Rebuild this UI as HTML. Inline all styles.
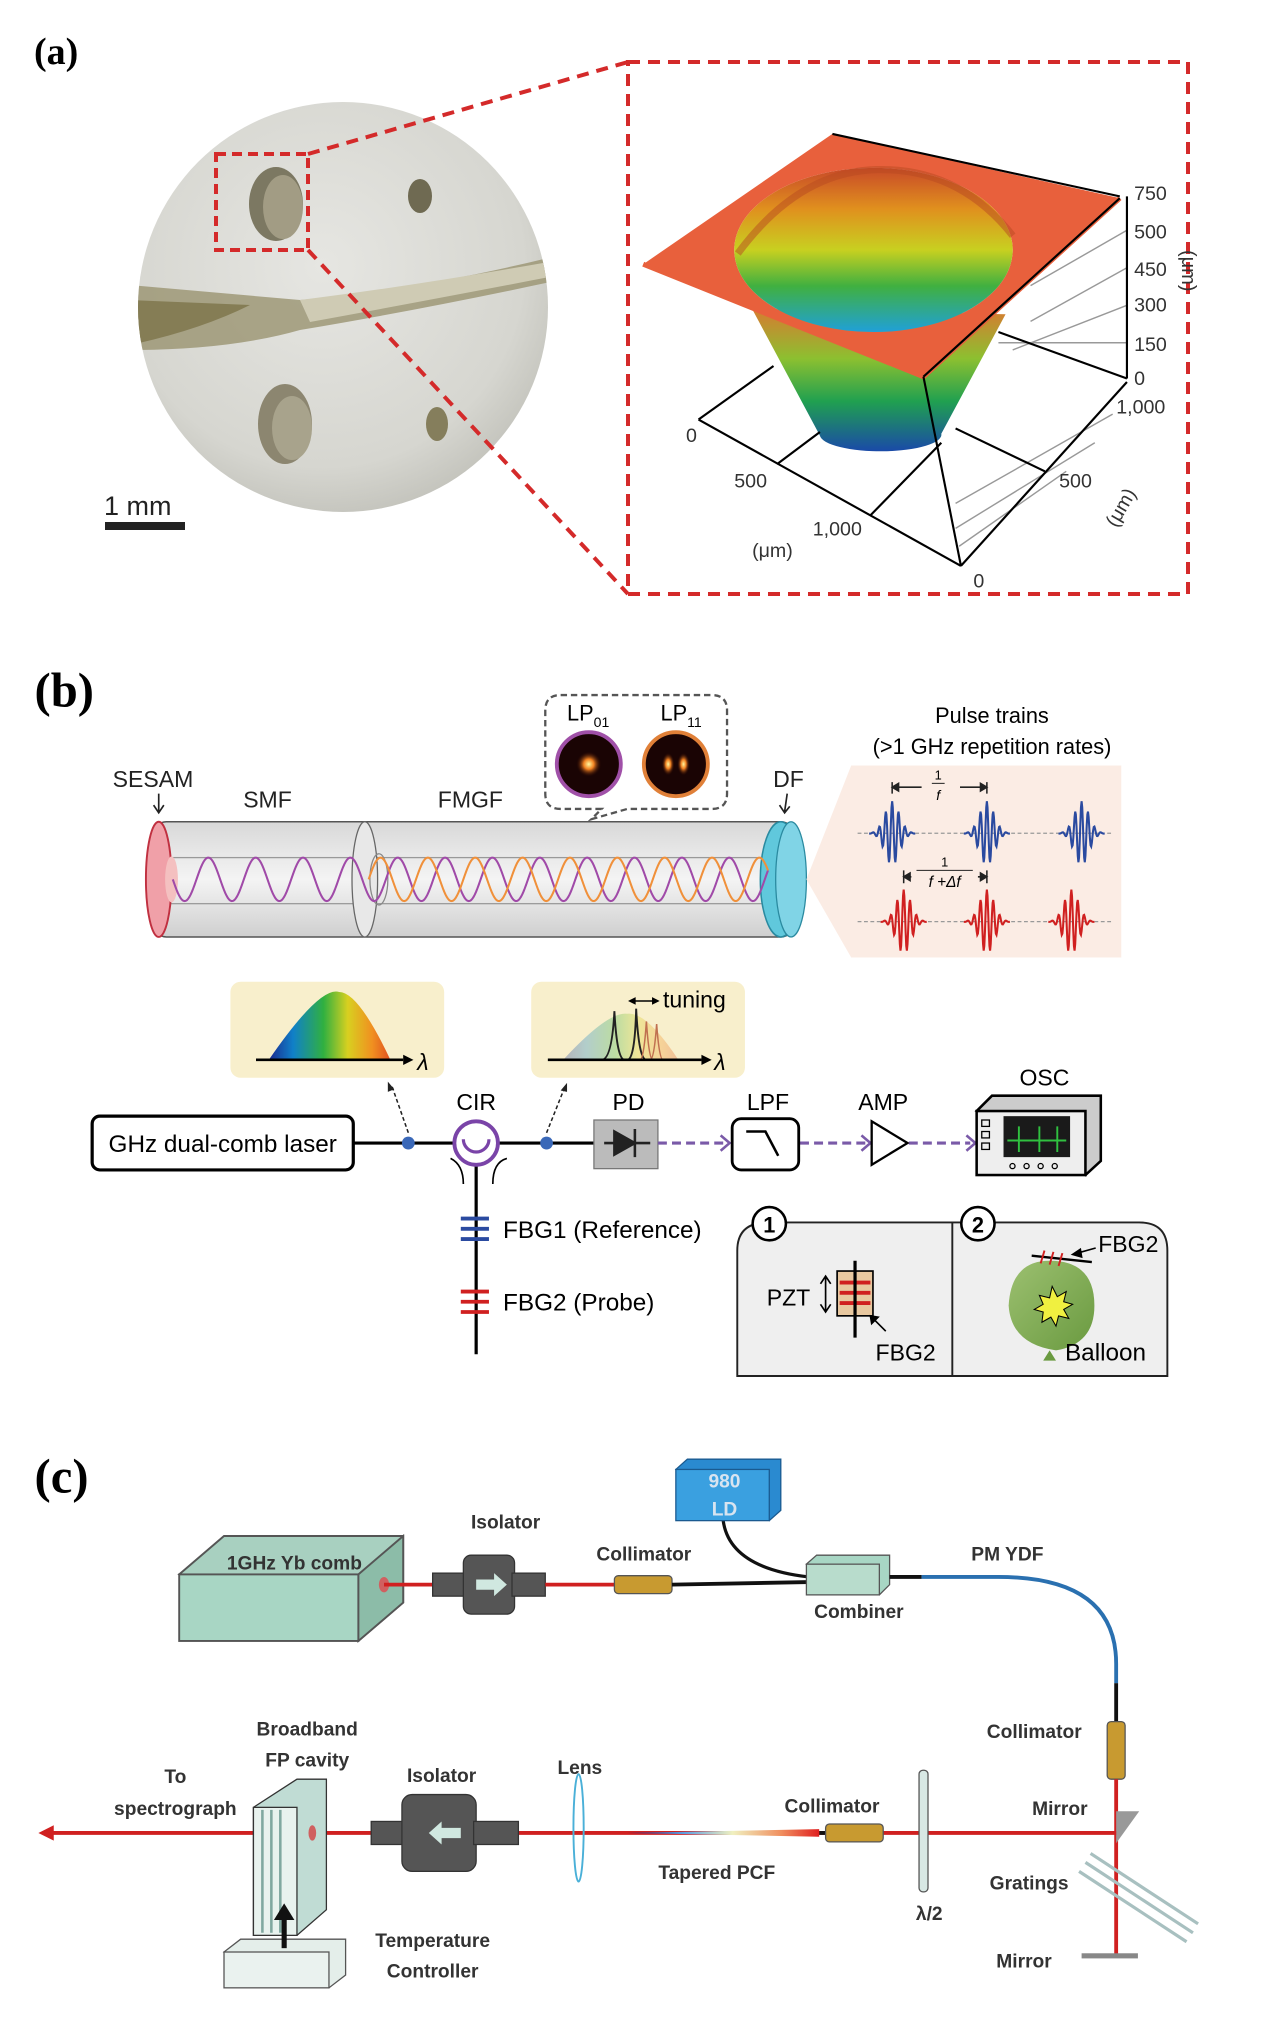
<!DOCTYPE html>
<html><head><meta charset="utf-8"><style>
html,body{margin:0;padding:0;background:#fff;}
svg{display:block;}
text{font-family:"Liberation Sans",sans-serif;}
.lbl{font-family:"Liberation Serif",serif;font-weight:bold;font-size:38px;}
.c{font-weight:bold;font-size:15px;fill:#333;}
</style></head><body>
<svg id="s" width="1280" height="2043" viewBox="0 0 1280 2043" xmlns="http://www.w3.org/2000/svg">
<defs>
<radialGradient id="photo" cx="0.45" cy="0.4" r="0.7"><stop offset="0" stop-color="#e6e6e2"/><stop offset="0.7" stop-color="#d6d6d0"/><stop offset="1" stop-color="#b8b8b0"/></radialGradient>
<linearGradient id="inner" x1="0" y1="0" x2="0" y2="1"><stop offset="0" stop-color="#c84a28"/><stop offset="0.25" stop-color="#e0901e"/><stop offset="0.5" stop-color="#c8d020"/><stop offset="0.72" stop-color="#40b040"/><stop offset="1" stop-color="#20a0d8"/></linearGradient>
<linearGradient id="outer" x1="0" y1="0" x2="0" y2="1"><stop offset="0" stop-color="#d87a30"/><stop offset="0.35" stop-color="#8cc030"/><stop offset="0.65" stop-color="#20a050"/><stop offset="1" stop-color="#1a4aa8"/></linearGradient>
<linearGradient id="rainbow" x1="0" y1="0" x2="1" y2="0"><stop offset="0" stop-color="#1a2a90"/><stop offset="0.2" stop-color="#1080c8"/><stop offset="0.45" stop-color="#30b040"/><stop offset="0.65" stop-color="#d8d020"/><stop offset="0.85" stop-color="#f09020"/><stop offset="1" stop-color="#e05020"/></linearGradient>
<linearGradient id="pcf" x1="0" y1="0" x2="1" y2="0"><stop offset="0" stop-color="#202080"/><stop offset="0.3" stop-color="#60a0e0"/><stop offset="0.55" stop-color="#f0f0c0"/><stop offset="0.8" stop-color="#f09060"/><stop offset="1" stop-color="#e02020"/></linearGradient>
<linearGradient id="tube" x1="0" y1="0" x2="0" y2="1"><stop offset="0" stop-color="#d8d8d8"/><stop offset="0.5" stop-color="#f4f4f4"/><stop offset="1" stop-color="#cfcfcf"/></linearGradient>
<radialGradient id="spot" cx="0.5" cy="0.5" r="0.5"><stop offset="0" stop-color="#fff8a0"/><stop offset="0.4" stop-color="#f08020"/><stop offset="1" stop-color="#200000" stop-opacity="0"/></radialGradient>
<linearGradient id="bal" x1="0" y1="0" x2="1" y2="1"><stop offset="0" stop-color="#9cc070"/><stop offset="1" stop-color="#6a9a40"/></linearGradient>
</defs>

<!-- ===== (a) ===== -->
<text class="lbl" x="34" y="64">(a)</text>
<g>
<ellipse cx="343" cy="307" rx="205" ry="205" fill="url(#photo)"/>
<clipPath id="pc"><ellipse cx="343" cy="307" rx="205" ry="205"/></clipPath>
<g clip-path="url(#pc)">
<path d="M130,285 L300,300 Q420,290 560,255 L560,280 Q420,310 300,330 Q230,350 130,350 Z" fill="#9a9470" opacity="0.8"/>
<path d="M130,300 L250,305 Q200,330 130,345 Z" fill="#857d55"/>
<path d="M300,300 Q420,285 560,260 L560,275 Q430,300 310,322 Z" fill="#cfcbb4"/>
</g>
<ellipse cx="276" cy="204" rx="27" ry="37" fill="#7c7862"/>
<ellipse cx="283" cy="207" rx="20" ry="32" fill="#a29c84"/>
<ellipse cx="420" cy="196" rx="12" ry="17" fill="#6f6a52"/>
<ellipse cx="285" cy="424" rx="27" ry="40" fill="#8c8670"/>
<ellipse cx="292" cy="428" rx="20" ry="32" fill="#a8a38c"/>
<ellipse cx="437" cy="424" rx="11" ry="17" fill="#857e5c"/>
<rect x="216" y="154" width="92" height="96" fill="none" stroke="#d42a2a" stroke-width="4" stroke-dasharray="10,6"/>
<line x1="308" y1="154" x2="628" y2="62" stroke="#d42a2a" stroke-width="4" stroke-dasharray="12,8"/>
<line x1="308" y1="250" x2="628" y2="594" stroke="#d42a2a" stroke-width="4" stroke-dasharray="12,8"/>
<rect x="628" y="62" width="560" height="532" fill="none" stroke="#d42a2a" stroke-width="4" stroke-dasharray="12,8"/>
<text x="104" y="515" font-size="27" fill="#222">1 mm</text>
<rect x="105" y="522" width="80" height="8" fill="#222"/>
</g>
<g transform="translate(620,100) scale(0.357)">
<g stroke="#999" stroke-width="4" fill="none">
<line x1="1420" y1="365" x2="1150" y2="520"/><line x1="1420" y1="470" x2="1150" y2="620"/>
<line x1="1420" y1="575" x2="1100" y2="700"/><line x1="1420" y1="680" x2="1060" y2="680"/>
<line x1="1380" y1="880" x2="940" y2="1130"/><line x1="1330" y1="960" x2="940" y2="1200"/>
<line x1="1250" y1="1040" x2="950" y2="1250"/>
</g>
<path d="M370,585 L560,940 A165 45 0 0 0 900,935 L1080,600 Z" fill="url(#outer)"/>
<path fill-rule="evenodd" d="M65,460 L595,95 L1400,275 L850,775 Z M320,420 A390 230 0 1 0 1100,420 A390 230 0 1 0 320,420 Z" fill="#e8603c"/>
<ellipse cx="710" cy="420" rx="390" ry="230" fill="url(#inner)"/>
<path d="M330,430 Q500,200 720,195 Q950,190 1100,380" fill="none" stroke="#b84a20" stroke-width="20" opacity="0.5"/>
<path d="M65,460 L850,775 L1400,275" fill="none" stroke="#e8603c" stroke-width="14"/>
<g stroke="#000" stroke-width="6" fill="none">
<line x1="595" y1="95" x2="1400" y2="270"/>
<line x1="1420" y1="270" x2="1420" y2="780"/>
<line x1="1400" y1="275" x2="850" y2="775"/>
<line x1="850" y1="775" x2="955" y2="1305"/>
<line x1="220" y1="895" x2="955" y2="1305"/>
<line x1="955" y1="1305" x2="1420" y2="790"/>
<line x1="220" y1="895" x2="430" y2="745"/>
<line x1="440" y1="1020" x2="560" y2="930"/>
<line x1="700" y1="1165" x2="900" y2="960"/>
<line x1="1190" y1="1040" x2="940" y2="920"/>
<line x1="1060" y1="650" x2="1420" y2="780"/>
</g>
<g font-size="55" fill="#333">
<text x="1440" y="280">750</text><text x="1440" y="388">500</text><text x="1440" y="493">450</text>
<text x="1440" y="593">300</text><text x="1440" y="703">150</text><text x="1440" y="798">0</text>
<text x="1390" y="878">1,000</text><text x="185" y="958">0</text><text x="320" y="1085">500</text>
<text x="540" y="1220">1,000</text><text x="370" y="1280">(μm)</text><text x="1230" y="1085">500</text>
<text x="990" y="1365">0</text>
<text transform="translate(1390,1200) rotate(-60)">(μm)</text>
</g>
</g>
<text transform="translate(1182,250) rotate(90)" font-size="20" fill="#333">(μm)</text>

<!-- ===== (b) and (c) in thumb coordinates ===== -->
<g transform="scale(1.28)">
<text class="lbl" x="27" y="552" font-size="30">(b)</text>
<rect x="120" y="642" width="500" height="90" rx="10" fill="url(#tube)" stroke="#555" stroke-width="1.2"/>
<rect x="130" y="670" width="470" height="36" fill="none" stroke="#999" stroke-width="1"/>
<ellipse cx="285" cy="687" rx="10" ry="45" fill="#e8e8e8" stroke="#666" stroke-width="1"/>
<ellipse cx="296" cy="687" rx="7" ry="20" fill="none" stroke="#888"/>
<ellipse cx="124" cy="687" rx="10" ry="45" fill="#f0a0a8" stroke="#c03040" stroke-width="1.5"/>
<ellipse cx="134" cy="687" rx="5" ry="18" fill="#f4c0c0"/>
<ellipse cx="610" cy="687" rx="16" ry="45" fill="#60c8dc" stroke="#2a8aa0" stroke-width="1.2"/>
<ellipse cx="618" cy="687" rx="12" ry="45" fill="#80d4e6" stroke="#2a8aa0" stroke-width="1"/>
<path id="wp" fill="none" stroke="#a04aa8" stroke-width="1.6"/>
<path id="wo" fill="none" stroke="#f0903a" stroke-width="1.6"/>
<g font-size="18" fill="#222">
<text x="88" y="615">SESAM</text><text x="190" y="631">SMF</text><text x="342" y="631">FMGF</text><text x="604" y="615">DF</text>
</g>
<path d="M124,620 l0,14 M120,629 l4,6 4,-6 M615,620 l-2,14 M609,629 l4,6 4,-5" stroke="#222" stroke-width="1.3" fill="none"/>
<path d="M438,543 H556 Q568,543 568,555 V620 Q568,632 556,632 H490 L462,640 L470,632 H438 Q426,632 426,620 V555 Q426,543 438,543 Z" fill="none" stroke="#555" stroke-width="1.8" stroke-dasharray="5,3"/>
<circle cx="460" cy="597" r="25" fill="#1a0404" stroke="#a050a8" stroke-width="3"/>
<circle cx="460" cy="597" r="10" fill="url(#spot)"/>
<circle cx="528" cy="597" r="25" fill="#1a0404" stroke="#e08038" stroke-width="3"/>
<ellipse cx="522" cy="597" rx="5" ry="9" fill="url(#spot)"/><ellipse cx="534" cy="597" rx="5" ry="9" fill="url(#spot)"/>
<text x="443" y="563" font-size="17">LP<tspan font-size="11" dy="5">01</tspan></text>
<text x="516" y="563" font-size="17">LP<tspan font-size="11" dy="5">11</tspan></text>
<path d="M630,687 L665,598 H876 V748 H665 Z" fill="#fbece4"/>
<text x="775" y="565" font-size="17" text-anchor="middle">Pulse trains</text>
<text x="775" y="589" font-size="17" text-anchor="middle">(&gt;1 GHz repetition rates)</text>
<line x1="670" y1="651" x2="870" y2="651" stroke="#999" stroke-dasharray="3,2"/>
<line x1="670" y1="720" x2="870" y2="720" stroke="#999" stroke-dasharray="3,2"/>
<path id="pb" fill="none" stroke="#2a4aa0" stroke-width="1.6"/>
<path id="pr" fill="none" stroke="#d02020" stroke-width="1.6"/>
<path d="M697,611 V620 M771,611 V620 M697,615 H720 M750,615 H771 M697,615 l5,-3 v6z M771,615 l-5,-3 v6z" stroke="#222" fill="#222" stroke-width="1.2"/>
<text x="733" y="609" font-size="10" font-family="Liberation Serif" text-anchor="middle">1</text>
<line x1="728" y1="612" x2="738" y2="612" stroke="#222" stroke-width="0.8"/>
<text x="733" y="625" font-size="11" font-style="italic" font-family="Liberation Serif" text-anchor="middle">f</text>
<path d="M706,680 V690 M771,680 V690 M706,685 H712 M764,685 H771 M706,685 l5,-3 v6z M771,685 l-5,-3 v6z" stroke="#222" fill="#222" stroke-width="1.2"/>
<text x="738" y="677" font-size="10" font-family="Liberation Serif" text-anchor="middle">1</text>
<line x1="716" y1="680" x2="760" y2="680" stroke="#222" stroke-width="0.8"/>
<text x="738" y="693" font-size="12" font-style="italic" font-family="Liberation Serif" text-anchor="middle">f +Δf</text>
<rect x="180" y="767" width="167" height="75" rx="8" fill="#f8efcc"/>
<rect x="415" y="767" width="167" height="75" rx="8" fill="#f8efcc"/>
<path d="M210,828 Q250,770 265,775 Q280,775 305,828 Z" fill="url(#rainbow)"/>
<path d="M200,828 H315" stroke="#000" stroke-width="2"/><path d="M315,824 l8,4 -8,4z"/>
<text x="326" y="836" font-size="18" font-style="italic" font-family="Liberation Serif">λ</text>
<path d="M440,828 Q475,790 490,792 Q505,790 530,828 Z" fill="url(#rainbow)" opacity="0.3"/>
<path d="M470,828 Q478,828 480,790 Q482,828 488,828 M490,828 Q496,828 497,788 Q499,828 505,828" fill="none" stroke="#222" stroke-width="1.5"/>
<path d="M500,828 Q503,828 505,798 Q507,828 510,828 M508,828 Q511,828 513,800 Q515,828 518,828" fill="none" stroke="#c07050" stroke-width="1.2"/>
<path d="M428,828 H548" stroke="#000" stroke-width="2"/><path d="M548,824 l8,4 -8,4z"/>
<text x="558" y="836" font-size="18" font-style="italic" font-family="Liberation Serif">λ</text>
<path d="M492,782 H514 M492,782 l4,-2 v4z M514,782 l-4,-2 v4z" stroke="#000" stroke-width="1.2"/>
<text x="518" y="787" font-size="18">tuning</text>
<rect x="72" y="872" width="204" height="42" rx="6" fill="#fff" stroke="#000" stroke-width="2.5"/>
<text x="174" y="900" font-size="19" text-anchor="middle">GHz dual-comb laser</text>
<line x1="276" y1="893" x2="464" y2="893" stroke="#000" stroke-width="2.5"/>
<line x1="372" y1="893" x2="372" y2="1058" stroke="#000" stroke-width="2.5"/>
<circle cx="372" cy="893" r="17" fill="#fff" stroke="#7a44a8" stroke-width="3"/>
<path d="M362,890 A10,10 0 0 0 382,890" fill="none" stroke="#7a44a8" stroke-width="2.5"/>
<circle cx="319" cy="893" r="5" fill="#3a68b8"/><circle cx="427" cy="893" r="5" fill="#3a68b8"/>
<path d="M319,885 L306,848 M427,885 L441,850" stroke="#222" stroke-width="1.2" stroke-dasharray="3,2"/>
<path d="M303,845 l0,8 5,-2z M443,846 l-5,6 5,1z" fill="#222"/>
<path d="M352,905 Q362,910 362,925 M385,925 Q385,908 396,905" fill="none" stroke="#000" stroke-width="1.3"/>
<text x="372" y="867" font-size="18" text-anchor="middle">CIR</text>
<rect x="464" y="875" width="50" height="38" fill="#bbb" stroke="#777"/>
<path d="M480,884 V902 L496,893 Z M496,882 V904" fill="#222" stroke="#222" stroke-width="2"/>
<path d="M472,893 H508" stroke="#222" stroke-width="2"/>
<text x="491" y="867" font-size="18" text-anchor="middle">PD</text>
<g stroke="#7a5aa8" stroke-width="2.5" stroke-dasharray="7,4" fill="none"><line x1="514" y1="893" x2="566" y2="893"/><line x1="625" y1="893" x2="676" y2="893"/><line x1="710" y1="893" x2="758" y2="893"/></g>
<g fill="none" stroke="#7a5aa8" stroke-width="2"><path d="M563,887 l7,6 -7,6 M673,887 l7,6 -7,6 M755,887 l7,6 -7,6"/></g>
<rect x="572" y="874" width="52" height="40" rx="7" fill="#fff" stroke="#000" stroke-width="2.2"/>
<path d="M583,884 H598 L608,903" fill="none" stroke="#000" stroke-width="2"/>
<text x="600" y="867" font-size="18" text-anchor="middle">LPF</text>
<path d="M681,876 V910 L709,893 Z" fill="#fff" stroke="#000" stroke-width="1.8"/>
<text x="690" y="867" font-size="18" text-anchor="middle">AMP</text>
<path d="M763,868 L775,856 H860 V907 L848,918 Z" fill="#ccc" stroke="#000" stroke-width="2"/>
<rect x="763" y="868" width="85" height="50" fill="#eee" stroke="#000" stroke-width="2"/>
<rect x="784" y="872" width="52" height="32" fill="#1a1a1a"/>
<path d="M787,891 H833 M796,880 V900 M812,880 V900 M826,880 V900" stroke="#30c040" stroke-width="1.5"/>
<rect x="767" y="875" width="6" height="5" fill="none" stroke="#000"/><rect x="767" y="884" width="6" height="5" fill="none" stroke="#000"/><rect x="767" y="893" width="6" height="5" fill="none" stroke="#000"/>
<g fill="none" stroke="#000"><circle cx="791" cy="911" r="2"/><circle cx="802" cy="911" r="2"/><circle cx="813" cy="911" r="2"/><circle cx="824" cy="911" r="2"/></g>
<text x="816" y="848" font-size="18" text-anchor="middle">OSC</text>
<path d="M360,952 H382 M360,960 H382 M360,968 H382" stroke="#2a4aa0" stroke-width="3"/>
<path d="M360,1009 H382 M360,1017 H382 M360,1025 H382" stroke="#d02020" stroke-width="3"/>
<text x="393" y="967" font-size="19">FBG1 (Reference)</text>
<text x="393" y="1024" font-size="19">FBG2 (Probe)</text>
<path d="M600,955 H890 Q912,955 912,977 V1075 H576 V977 Q576,955 600,955 Z" fill="#efefef" stroke="#222" stroke-width="1.5"/>
<line x1="744" y1="955" x2="744" y2="1075" stroke="#222" stroke-width="1.5"/>
<circle cx="601" cy="956" r="13" fill="#fff" stroke="#000" stroke-width="2"/><text x="601" y="963" font-size="17" font-weight="bold" text-anchor="middle">1</text>
<circle cx="764" cy="956" r="13" fill="#fff" stroke="#000" stroke-width="2"/><text x="764" y="963" font-size="17" font-weight="bold" text-anchor="middle">2</text>
<rect x="654" y="993" width="28" height="35" fill="#e8c8a0" stroke="#000" stroke-width="1.3"/>
<path d="M656,1002 H680 M656,1010 H680 M656,1018 H680" stroke="#d02020" stroke-width="3"/>
<line x1="668" y1="985" x2="668" y2="1045" stroke="#000" stroke-width="2.5"/>
<path d="M645,998 V1024 M641,1003 l4,-6 4,6 M641,1019 l4,6 4,-6" fill="none" stroke="#000" stroke-width="1.3"/>
<text x="599" y="1020" font-size="18">PZT</text>
<path d="M692,1040 L680,1028 M680,1028 l1,6 5,-5z" stroke="#000" stroke-width="1.3"/>
<text x="684" y="1063" font-size="18">FBG2</text>
<path d="M820,985 Q855,985 855,1020 Q855,1050 825,1055 Q790,1050 788,1020 Q790,985 820,985 Z" fill="url(#bal)"/>
<path d="M820,1055 l-5,8 h10z" fill="#6a9a40"/>
<path d="M822,1005 l4,8 7,-4 -2,8 7,2 -7,4 4,7 -8,-2 -2,8 -4,-7 -7,4 1,-8 -7,-2 7,-4 -3,-7 8,2z" fill="#f0f040" stroke="#000" stroke-width="0.8"/>
<line x1="806" y1="981" x2="853" y2="986" stroke="#000" stroke-width="1.8"/>
<path d="M816,977 l-3,10 M823,978 l-3,10 M830,979 l-3,10" stroke="#d02020" stroke-width="1.5"/>
<path d="M856,975 L838,980 M838,980 l6,-4 1,6z" stroke="#000" stroke-width="1.3"/>
<text x="858" y="978" font-size="18">FBG2</text>
<text x="832" y="1063" font-size="19">Balloon</text>

<!-- ===== (c) ===== -->
<text class="lbl" x="27" y="1166" font-size="30">(c)</text>
<path d="M140,1230 L175,1200 H315 V1252 L280,1282 Z" fill="#a8d0c0" stroke="#555" stroke-width="1.5"/>
<rect x="140" y="1230" width="140" height="52" fill="#a8d6c4" stroke="#555" stroke-width="1.5"/>
<path d="M280,1230 L315,1200 V1252 L280,1282 Z" fill="#8cbca8" stroke="#555" stroke-width="1.5"/>
<text x="230" y="1226" class="c" text-anchor="middle" font-size="15">1GHz Yb comb</text>
<ellipse cx="300" cy="1238" rx="4" ry="6" fill="#d06060"/>
<line x1="300" y1="1238" x2="340" y2="1238" stroke="#d02020" stroke-width="3"/>
<rect x="338" y="1229" width="26" height="18" fill="#555" stroke="#333"/>
<rect x="362" y="1215" width="40" height="46" rx="6" fill="#555" stroke="#333"/>
<rect x="400" y="1229" width="26" height="18" fill="#555" stroke="#333"/>
<path d="M372,1234 H386 V1229 L396,1238 L386,1247 V1242 H372 Z" fill="#d0e8e0"/>
<text x="395" y="1194" class="c" text-anchor="middle">Isolator</text>
<line x1="426" y1="1238" x2="480" y2="1238" stroke="#d02020" stroke-width="3"/>
<rect x="480" y="1231" width="45" height="14" rx="3" fill="#c89a30" stroke="#555"/>
<text x="503" y="1219" class="c" text-anchor="middle">Collimator</text>
<line x1="525" y1="1238" x2="632" y2="1236" stroke="#111" stroke-width="3"/>
<path d="M565,1188 Q570,1225 632,1232" fill="none" stroke="#111" stroke-width="2.5"/>
<path d="M528,1148 L537,1140 H610 V1180 L601,1188 Z" fill="#2a8ad0" stroke="#1a5a90"/>
<rect x="528" y="1148" width="73" height="40" fill="#3aa0e0" stroke="#1a5a90"/>
<text x="566" y="1162" class="c" text-anchor="middle" style="fill:#d8e4f0">980</text>
<text x="566" y="1184" class="c" text-anchor="middle" style="fill:#d8e4f0">LD</text>
<path d="M630,1222 L638,1215 H695 V1238 L687,1246 Z" fill="#a8d6c4" stroke="#555"/>
<rect x="630" y="1222" width="57" height="24" fill="#b8dccc" stroke="#555"/>
<text x="671" y="1264" class="c" text-anchor="middle">Combiner</text>
<path d="M695,1232 H720" stroke="#111" stroke-width="3"/>
<path d="M720,1232 H780 Q872,1232 872,1300 V1315" fill="none" stroke="#2a70b0" stroke-width="3"/>
<line x1="872" y1="1315" x2="872" y2="1345" stroke="#111" stroke-width="3"/>
<text x="787" y="1219" class="c" text-anchor="middle">PM YDF</text>
<rect x="865" y="1345" width="14" height="45" rx="3" fill="#c89a30" stroke="#555"/>
<text x="808" y="1358" class="c" text-anchor="middle">Collimator</text>
<line x1="872" y1="1390" x2="872" y2="1527" stroke="#d02020" stroke-width="3"/>
<path d="M872,1415 H890 L872,1440 Z" fill="#999"/>
<text x="828" y="1418" class="c" text-anchor="middle">Mirror</text>
<path d="M848,1455 L932,1510 M843,1462 L927,1517 M852,1448 L936,1503" stroke="#a8c0c0" stroke-width="2.5"/>
<text x="804" y="1476" class="c" text-anchor="middle">Gratings</text>
<rect x="845" y="1526" width="44" height="4" fill="#888"/>
<text x="800" y="1537" class="c" text-anchor="middle">Mirror</text>
<line x1="40" y1="1432" x2="872" y2="1432" stroke="#d02020" stroke-width="3"/>
<path d="M30,1432 l12,-6 v12z" fill="#d02020"/>
<rect x="718" y="1383" width="7" height="95" rx="3" fill="#d8e8e4" stroke="#555"/>
<text x="726" y="1500" class="c" text-anchor="middle">λ/2</text>
<line x1="640" y1="1432" x2="650" y2="1432" stroke="#111" stroke-width="3"/>
<rect x="645" y="1425" width="45" height="14" rx="3" fill="#c89a30" stroke="#555"/>
<text x="650" y="1416" class="c" text-anchor="middle">Collimator</text>
<path d="M490,1432 L640,1429 V1435 Z" fill="url(#pcf)"/>
<text x="560" y="1468" class="c" text-anchor="middle">Tapered PCF</text>
<ellipse cx="452" cy="1428" rx="4" ry="42" fill="none" stroke="#4ab0d8" stroke-width="1.5"/>
<text x="453" y="1386" class="c" text-anchor="middle">Lens</text>
<rect x="290" y="1423" width="26" height="18" fill="#555" stroke="#333"/>
<rect x="314" y="1402" width="58" height="60" rx="8" fill="#555" stroke="#333"/>
<rect x="370" y="1423" width="35" height="18" fill="#555" stroke="#333"/>
<path d="M360,1428 H345 V1423 L335,1432 L345,1441 V1436 H360 Z" fill="#d0e8e0"/>
<text x="345" y="1392" class="c" text-anchor="middle">Isolator</text>
<path d="M198,1412 L232,1390 H255 V1492 L232,1512 H198 Z" fill="#c0dcd4" stroke="#333"/>
<rect x="198" y="1412" width="34" height="100" fill="#e8f2ee" stroke="#333"/>
<path d="M205,1414 V1510 M212,1414 V1510 M219,1414 V1510" stroke="#80a8a0" stroke-width="2"/>
<ellipse cx="244" cy="1432" rx="3" ry="6" fill="#d06060"/>
<text x="240" y="1356" class="c" text-anchor="middle">Broadband</text>
<text x="240" y="1380" class="c" text-anchor="middle">FP cavity</text>
<text x="137" y="1393" class="c" text-anchor="middle">To</text>
<text x="137" y="1418" class="c" text-anchor="middle">spectrograph</text>
<path d="M175,1525 L188,1515 H270 V1543 L257,1553 Z" fill="#e4eeea" stroke="#555"/>
<rect x="175" y="1525" width="82" height="28" fill="#eaf2ef" stroke="#555"/>
<line x1="222" y1="1522" x2="222" y2="1498" stroke="#111" stroke-width="4"/>
<path d="M214,1500 L222,1487 L230,1500 Z" fill="#111"/>
<text x="338" y="1521" class="c" text-anchor="middle">Temperature</text>
<text x="338" y="1545" class="c" text-anchor="middle">Controller</text>
</g>
</svg>
<script>
function sine(x0,x1,yc,A,P,ph){let d='';for(let x=x0;x<=x1;x+=1){const y=yc+A*Math.sin(2*Math.PI*(x-x0)/P+ph);d+=(x==x0?'M':'L')+x+','+y.toFixed(2)+' ';}return d;}
document.getElementById('wp').setAttribute('d',sine(135,600,687,17,37,0));
document.getElementById('wo').setAttribute('d',sine(288,600,687,17,37,Math.PI));
function pulses(cs,yc){let d='';cs.forEach(c=>{for(let x=c-18;x<=c+18;x+=0.5){const g=Math.exp(-Math.pow((x-c)/8,2));const y=yc-25*g*Math.cos(2*Math.PI*(x-c)/5);d+=(x==c-18?'M':'L')+x+','+y.toFixed(2)+' ';}});return d;}
document.getElementById('pb').setAttribute('d',pulses([697,771,845],651));
document.getElementById('pr').setAttribute('d',pulses([706,771,837],720));
</script>
</body></html>
